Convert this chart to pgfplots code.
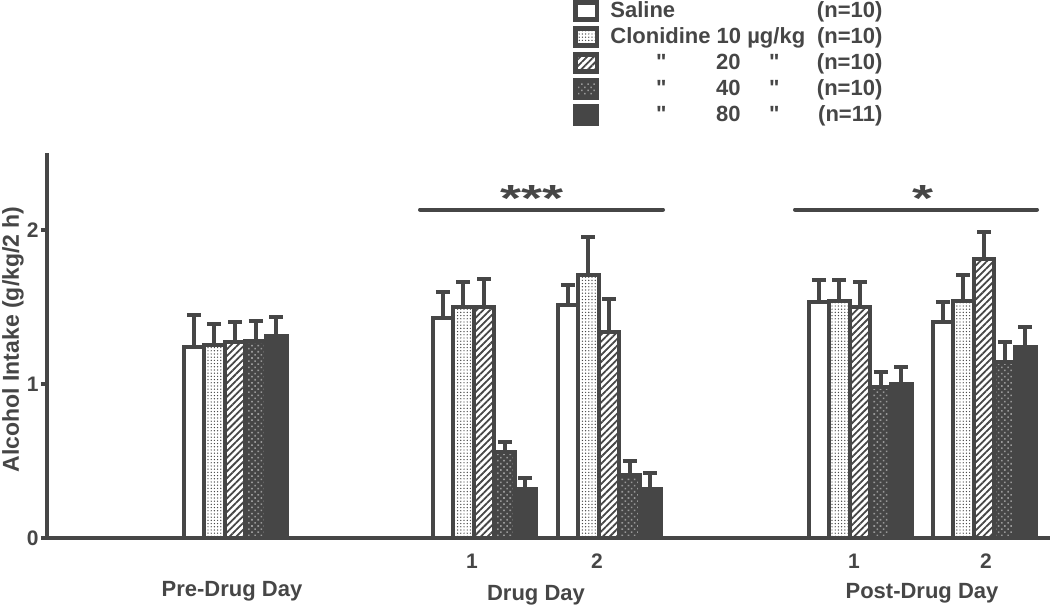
\documentclass[border=0pt]{standalone}
\usepackage{fontspec}
\setmainfont{Liberation Sans}[Ligatures=TeXOff]
\usepackage{pgfplots}
\usepackage{pgfplotstable}
\pgfplotsset{compat=1.18}
\usetikzlibrary{patterns.meta}
\definecolor{dk}{HTML}{464646}

% bars: x y err  (x = group centre)
\pgfplotstableread{
x y e
2.35 1.24 0.21
4.84 1.43 0.17
6.09 1.51 0.13
8.60 1.53 0.145
9.84 1.40 0.13
}\datSal
\pgfplotstableread{
x y e
2.35 1.25 0.14
4.84 1.50 0.165
6.09 1.71 0.245
8.60 1.54 0.135
9.84 1.54 0.17
}\datTen
\pgfplotstableread{
x y e
2.35 1.27 0.13
4.84 1.50 0.185
6.09 1.34 0.21
8.60 1.50 0.165
9.84 1.81 0.18
}\datTwenty
\pgfplotstableread{
x y e
2.35 1.28 0.13
4.84 0.56 0.065
6.09 0.41 0.09
8.60 0.98 0.10
9.84 1.14 0.135
}\datForty
\pgfplotstableread{
x y e
2.35 1.31 0.125
4.84 0.32 0.07
6.09 0.32 0.10
8.60 1.00 0.11
9.84 1.24 0.13
}\datEighty

\newcommand\dq{"}
\newcommand\lrow[2]{\hspace*{4.5pt}\hbox to 136pt{\rlap{\hspace*{25.5pt}\makebox[0pt]{\dq}}\rlap{\hspace*{59pt}\makebox[0pt]{#1}}\rlap{\hspace*{82pt}\makebox[0pt]{\dq}}\hfill(n=#2)}}

\begin{document}
\begin{tikzpicture}[font=\bfseries\fontsize{10.5}{12}\selectfont]
\begin{axis}[
    scale only axis,
    width=501.5pt, height=192.5pt,
    xmin=0.47, xmax=10.5, ymin=0, ymax=2.5,
    axis lines*=left,
    axis line style={line width=2.2pt, dk},
    ybar=0pt, bar width=10.3pt,
    xtick=\empty,
    ytick={0,1,2},
    tick align=outside, major tick length=3pt,
    ytick style={line width=1.6pt, dk},
    yticklabel style={font=\bfseries\fontsize{10.5}{12}\selectfont, text=dk, inner sep=1pt},
    /pgf/number format/assume math mode=true,
    clip=false,
    every axis plot/.append style={line width=2pt},
    error bars/y dir=plus, error bars/y explicit,
    error bars/error mark=|,
    error bars/error bar style={line width=2pt, dk},
    error bars/error mark options={line width=2pt, mark size=3.5pt, dk},
    legend image code/.code={\draw[#1, line width=2.4pt] (1.2pt,-4.3pt) rectangle (11.8pt,4.3pt);},
    legend style={at={(axis cs:5.73,3.5)}, anchor=north west, draw=none, fill=none,
        inner sep=0pt, row sep=1.6pt, font=\bfseries\fontsize{11}{12}\selectfont,
        text=dk, nodes={inner sep=1pt}},
    legend cell align=left,
]
\addplot[draw=dk, fill=white] table[x=x, y=y, y error=e] {\datSal};
\addlegendentry{\hspace*{4.5pt}\hbox to 136pt{Saline\hfill(n=10)}}
\addplot[draw=dk, preaction={fill=white},
    preaction={pattern={Dots[radius=0.35pt, distance=1.6pt]}, pattern color=dk}]
    table[x=x, y=y, y error=e] {\datTen};
\addlegendentry{\hspace*{4.5pt}\hbox to 136pt{Clonidine 10 µg/kg\hfill(n=10)}}
\addplot[draw=dk, preaction={fill=white},
    preaction={pattern={Lines[angle=45, distance=2.4pt, line width=0.9pt]}, pattern color=dk}]
    table[x=x, y=y, y error=e] {\datTwenty};
\addlegendentry{\lrow{20}{10}}
\addplot[draw=dk, preaction={fill=dk},
    preaction={pattern={Dots[radius=0.55pt, distance=2.2pt, angle=45]}, pattern color=black!40}]
    table[x=x, y=y, y error=e] {\datForty};
\addlegendentry{\lrow{40}{10}}
\addplot[draw=dk, fill=dk] table[x=x, y=y, y error=e] {\datEighty};
\addlegendentry{\lrow{80}{11}}

% significance lines and stars
\draw[dk, line width=2pt, line cap=round] (axis cs:4.20,2.133) -- (axis cs:6.63,2.133);
\draw[dk, line width=2pt, line cap=round] (axis cs:7.95,2.133) -- (axis cs:10.37,2.133);
\node[anchor=base, text=dk, font=\bfseries\fontsize{27}{30}\selectfont, inner sep=0pt] at (axis cs:5.32,2.117) {\scalebox{1}[0.7]{***}};
\node[anchor=base, text=dk, font=\bfseries\fontsize{27}{30}\selectfont, inner sep=0pt] at (axis cs:9.23,2.117) {\scalebox{1}[0.7]{*}};

% x labels
\node[anchor=base, text=dk] at (axis cs:4.72,-0.195) {1};
\node[anchor=base, text=dk] at (axis cs:5.97,-0.195) {2};
\node[anchor=base, text=dk] at (axis cs:8.54,-0.195) {1};
\node[anchor=base, text=dk] at (axis cs:9.86,-0.195) {2};
\node[anchor=base, text=dk, font=\bfseries\fontsize{11}{12}\selectfont] at (axis cs:2.32,-0.377) {Pre-Drug Day};
\node[anchor=base, text=dk, font=\bfseries\fontsize{11}{12}\selectfont] at (axis cs:5.36,-0.403) {Drug Day};
\node[anchor=base, text=dk, font=\bfseries\fontsize{11}{12}\selectfont] at (axis cs:9.22,-0.396) {Post-Drug Day};

% y label
\node[rotate=90, text=dk, font=\bfseries\fontsize{11.5}{13}\selectfont] at (axis cs:0.13,1.29) {Alcohol Intake (g/kg/2 h)};
\end{axis}
\pgfresetboundingbox
\path[use as bounding box] (-23.5pt,-36pt) rectangle (501.5pt,269pt);
\end{tikzpicture}
\end{document}
